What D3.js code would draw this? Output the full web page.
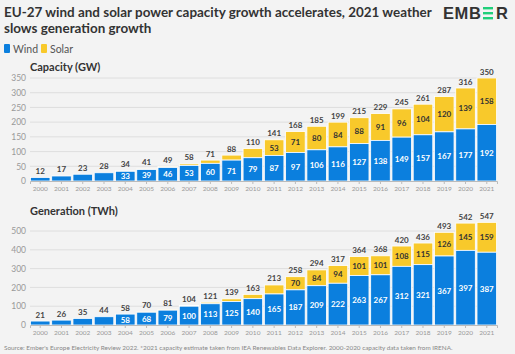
<!DOCTYPE html>
<html><head><meta charset="utf-8">
<script src="https://cdn.jsdelivr.net/npm/d3@7"></script>
<style>
html,body{margin:0;padding:0;background:#f3f3f3;}
svg{display:block;font-family:Lato,"Noto Sans",sans-serif;}
</style></head>
<body>
<svg id="c" width="515" height="354"></svg>
<script>
const years = ["2000","2001","2002","2003","2004","2005","2006","2007","2008","2009","2010","2011","2012","2013","2014","2015","2016","2017","2018","2019","2020","2021"];
const capWind  = [12,17,23,28,33,39,46,53,60,71,79,87,97,106,116,127,138,149,157,167,177,192];
const capSolar = [0,0,0,0,1,2,3,5,11,17,31,53,71,80,84,88,91,96,104,120,139,158];
const capTotal = [12,17,23,28,34,41,49,58,71,88,110,141,168,185,199,215,229,245,261,287,316,350];
const genWind  = [21,26,35,44,58,68,79,100,113,125,140,165,187,209,222,263,267,312,321,367,397,387];
const genSolar = [0,0,0,0,0,2,2,4,8,14,23,48,70,84,94,101,101,108,115,126,145,159];
const genTotal = [21,26,35,44,58,70,81,104,121,139,163,213,258,294,317,364,368,420,436,493,542,547];
const capTicks = [0,50,100,150,200,250,300,350];
const genTicks = [0,100,200,300,400,500];

const WIND="#0b7fde", SOLAR="#f8c92b";
const svg = d3.select("#c");

function fit(sel, w){
  const fs = parseFloat(sel.attr("font-size"));
  const cur = sel.node().getComputedTextLength();
  sel.attr("font-size", fs*w/cur);
}

// Title
const title = svg.append("g").attr("font-weight",700).attr("fill","#333").attr("font-size",14);
const t1 = title.append("text").attr("x",4).attr("y",17).attr("font-size",14).text("EU-27 wind and solar power capacity growth accelerates, 2021 weather");
fit(t1, 428);
title.append("text").attr("x",4).attr("y",33).attr("font-size",t1.attr("font-size")).text("slows generation growth");

// Logo
const logo = svg.append("g").attr("font-weight",700).attr("fill","#333").attr("font-family","'Liberation Sans',Arial,sans-serif").attr("font-size",16.5);
logo.append("text").attr("x",443).attr("y",19).attr("letter-spacing",0.6).text("EMB");
[0,5,10].forEach(d=>logo.append("rect").attr("x",483).attr("y",7+d).attr("width",10).attr("height",2.4).attr("fill","#1fcf7a"));
logo.append("text").attr("x",496).attr("y",19).text("R");

// Legend
const leg = svg.append("g").attr("font-size",10.5).attr("fill","#555");
leg.append("rect").attr("x",4).attr("y",44).attr("width",6).attr("height",9).attr("rx",1).attr("fill",WIND);
leg.append("text").attr("x",13).attr("y",52.5).text("Wind");
leg.append("rect").attr("x",41).attr("y",44).attr("width",6).attr("height",9).attr("rx",1).attr("fill",SOLAR);
leg.append("text").attr("x",50).attr("y",52.5).text("Solar");

function panel(label, labelY, y0, y1, dmax, ticks, wind, solar, total, windMin, solarMin){
  const x = d3.scaleBand().domain(years).range([30,497]).paddingInner(0.08).paddingOuter(0.02);
  const y = d3.scaleLinear().domain([0,dmax]).range([y0,y1]);
  const g = svg.append("g");
  g.append("text").attr("x",30).attr("y",labelY).attr("font-weight",700).attr("font-size",11).attr("fill","#333").text(label);
  g.append("g").selectAll("line").data(ticks.slice(1)).join("line")
    .attr("x1",30).attr("x2",497).attr("y1",d=>y(d)).attr("y2",d=>y(d))
    .attr("stroke","#dedede").attr("stroke-width",1);
  const ya = g.append("g").attr("transform","translate(26,0)").call(d3.axisLeft(y).tickValues(ticks).tickSize(0).tickPadding(0));
  ya.select(".domain").remove();
  ya.selectAll("text").attr("font-size",8.5).attr("fill","#999").attr("font-family","Lato,'Noto Sans',sans-serif");
  const data = years.map((yr,i)=>({yr,w:wind[i],s:solar[i],t:total[i]}));
  g.append("g").selectAll("rect").data(data).join("rect")
    .attr("x",d=>x(d.yr)).attr("width",x.bandwidth())
    .attr("y",d=>y(d.w+d.s)).attr("height",d=>y(d.w)-y(d.w+d.s))
    .attr("fill",SOLAR).attr("stroke","#fff").attr("stroke-width",0.8);
  g.append("g").selectAll("rect").data(data).join("rect")
    .attr("x",d=>x(d.yr)).attr("width",x.bandwidth())
    .attr("y",d=>y(d.w)).attr("height",d=>y(0)-y(d.w))
    .attr("fill",WIND).attr("stroke","#fff").attr("stroke-width",0.8);
  const xa = g.append("g").attr("transform",`translate(0,${y0})`).call(d3.axisBottom(x).tickSize(3).tickPadding(2));
  xa.select(".domain").attr("stroke","#bbb");
  xa.selectAll(".tick line").attr("stroke","#bbb");
  xa.selectAll("text").attr("font-size",6.5).attr("fill","#999").attr("font-family","Lato,'Noto Sans',sans-serif");
  const lab = g.append("g").attr("font-size",8).attr("font-weight",700).attr("text-anchor","middle");
  lab.selectAll(".t").data(data).join("text").attr("class","t")
    .attr("x",d=>x(d.yr)+x.bandwidth()/2).attr("y",d=>y(d.t)-3.5).attr("fill","#444").text(d=>d.t);
  lab.selectAll(".w").data(data.filter((d,i)=>i>=windMin)).join("text").attr("class","w")
    .attr("x",d=>x(d.yr)+x.bandwidth()/2).attr("y",d=>(y(0)+y(d.w))/2+3).attr("fill","#fff").text(d=>d.w);
  lab.selectAll(".s").data(data.filter((d,i)=>i>=solarMin)).join("text").attr("class","s")
    .attr("x",d=>x(d.yr)+x.bandwidth()/2).attr("y",d=>(y(d.w)+y(d.w+d.s))/2+3).attr("fill","#333").text(d=>d.s);
}

panel("Capacity (GW)", 71, 181, 78, 350, capTicks, capWind, capSolar, capTotal, 4, 11);
panel("Generation (TWh)", 215, 325, 231, 500, genTicks, genWind, genSolar, genTotal, 4, 12);

const src = svg.append("text").attr("x",4).attr("y",350).attr("font-size",7.5).attr("fill","#888")
  .text("Source: Ember's Europe Electricity Review 2022. *2021 capacity estimate taken from IEA Renewables Data Explorer. 2000-2020 capacity data taken from IRENA.");
fit(src, 449);
</script>
</body></html>
